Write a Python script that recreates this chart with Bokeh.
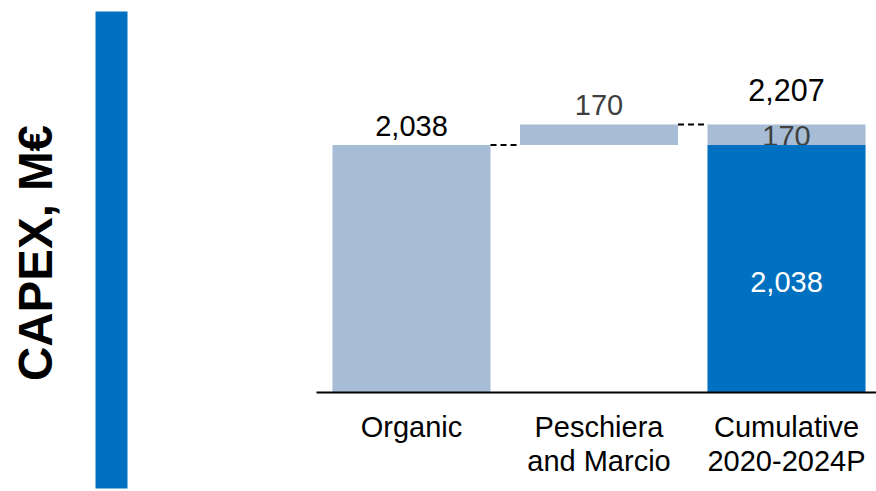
import numpy as np
from bokeh.plotting import figure
from bokeh.models import FixedTicker, Range1d, LinearAxis
from bokeh.core.properties import value
from bokeh.embed import file_html
from bokeh.resources import INLINE

# ---- data ----
categories = ["Organic", "Peschiera\nand Marcio", "Cumulative\n2020-2024P"]
organic = 2038
increment = 170
total = 2207
title_text = "CAPEX, M€"

# ---- style / layout ----
x_pos = [0, 1, 2]
BAR_W = 0.843
LIGHT = "#A6BDD5"
DARK = "#0070C0"
GRAY = "#404040"
FONT = "Liberation Sans"
W, H = 876, 491


def fmt(v):
    return f"{v:,}"


p = figure(width=W, height=H, output_backend="svg", toolbar_location=None,
           x_range=Range1d(-2.192, 2.48), y_range=Range1d(-815.2, 3228),
           x_axis_type=None, y_axis_type=None, min_border=0)
p.outline_line_color = None
p.grid.visible = False
# pixel-space ranges for the decorative left panel
p.extra_x_ranges = {"px": Range1d(0, W)}
p.extra_y_ranges = {"px": Range1d(H, 0)}

# left decoration: blue band and rotated title
p.quad(left=[95], right=[127], top=[11], bottom=[488], color=DARK, line_color=None,
       x_range_name="px", y_range_name="px")
p.text(x=[35], y=[252.5], text=[title_text], angle=np.pi / 2,
       text_font=value(FONT), text_font_style="bold", text_font_size="47.5px",
       text_align="center", text_baseline="alphabetic", text_color="black",
       x_range_name="px", y_range_name="px")

# Organic bar
p.vbar(x=[x_pos[0]], width=BAR_W, bottom=0, top=[organic], color=LIGHT, line_color=None)
# Peschiera floating bar
p.vbar(x=[x_pos[1]], width=BAR_W, bottom=[organic], top=[total], color=LIGHT, line_color=None)
# Cumulative top segment
p.vbar(x=[x_pos[2]], width=BAR_W, bottom=[organic], top=[total], color=LIGHT, line_color=None)
# label inside top segment (partially covered by the dark bar)
p.text(x=[x_pos[2]], y=[organic], text=[fmt(increment)], y_offset=-9.5,
       text_font=value(FONT), text_font_size="29px", text_align="center",
       text_baseline="alphabetic", text_color=GRAY)
# Cumulative base
p.vbar(x=[x_pos[2]], width=BAR_W, bottom=0, top=[organic], color=DARK, line_color=None)

# connectors
p.segment(x0=[x_pos[0] + BAR_W / 2, x_pos[1] + BAR_W / 2],
          y0=[organic, total],
          x1=[x_pos[1] - BAR_W / 2, x_pos[2] - BAR_W / 2],
          y1=[organic, total],
          line_color="black", line_width=2, line_dash="6 4")

# value labels
p.text(x=[x_pos[0]], y=[organic], text=[fmt(organic)], y_offset=-19,
       text_font=value(FONT), text_font_size="29px", text_align="center",
       text_baseline="alphabetic", text_color="black")
p.text(x=[x_pos[1]], y=[total], text=[fmt(increment)], y_offset=-19.5,
       text_font=value(FONT), text_font_size="29px", text_align="center",
       text_baseline="alphabetic", text_color=GRAY)
p.text(x=[x_pos[2]], y=[total], text=[fmt(total)], y_offset=-34.5,
       text_font=value(FONT), text_font_size="30.5px", text_align="center",
       text_baseline="alphabetic", text_color="black")
p.text(x=[x_pos[2]], y=[organic * 0.4], text=[fmt(organic)], y_offset=-12,
       text_font=value(FONT), text_font_size="29px", text_align="center",
       text_baseline="alphabetic", text_color="white")

# baseline axis (drawn at y = 0)
axis = LinearAxis(fixed_location=0, bounds=(-0.5067, 2.48),
                  ticker=FixedTicker(ticks=[]),
                  axis_line_color="black", axis_line_width=2,
                  major_tick_line_color=None, minor_tick_line_color=None,
                  major_label_text_font_size="0px")
p.add_layout(axis, "below")

# category labels
p.text(x=x_pos, y=[0, 0, 0], text=categories, y_offset=18,
       text_font=value(FONT), text_font_size="29px", text_align="center",
       text_baseline="top", text_line_height=1.09, text_color="black")

open("out.html", "w").write(file_html(p, INLINE))
